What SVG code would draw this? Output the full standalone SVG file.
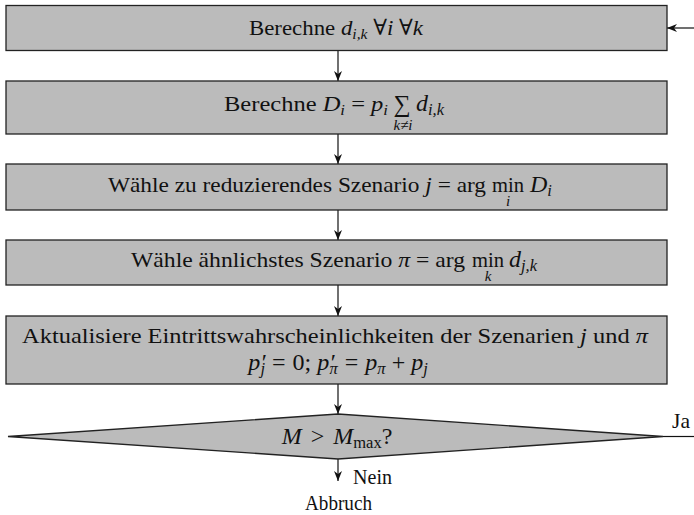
<svg xmlns="http://www.w3.org/2000/svg" width="694" height="515" viewBox="0 0 694 515">
<style>
text{font-family:"Liberation Serif","DejaVu Serif","Noto Serif",serif;font-size:22px;fill:#111}
.i{font-style:italic}
.s{font-size:15px}
.mx{font-size:24px}
.mx .s{font-size:16.5px}
.m{text-anchor:middle}
.box{fill:#bbbbbb;stroke:#222;stroke-width:1.3}
.con{stroke:#111;stroke-width:1.2;fill:none}
</style>
<defs>
<marker id="ah" viewBox="0 0 10 8" refX="10" refY="4" markerWidth="10" markerHeight="8" markerUnits="userSpaceOnUse" orient="auto">
<path d="M0,0 L10,4 L0,8 L3,4 Z" fill="#111"/>
</marker>
</defs>
<g id="connectors">
<line class="con" x1="338" y1="51" x2="338" y2="81" marker-end="url(#ah)"/>
<line class="con" x1="338" y1="134" x2="338" y2="164" marker-end="url(#ah)"/>
<line class="con" x1="338" y1="210" x2="338" y2="240" marker-end="url(#ah)"/>
<line class="con" x1="338" y1="285" x2="338" y2="316" marker-end="url(#ah)"/>
<line class="con" x1="338" y1="384" x2="338" y2="414" marker-end="url(#ah)"/>
<line class="con" x1="338" y1="459" x2="338" y2="481" marker-end="url(#ah)"/>
<line class="con" x1="694" y1="28" x2="667" y2="28" marker-end="url(#ah)"/>
<line class="con" x1="663" y1="436.5" x2="694" y2="436.5"/>
<text x="672" y="428" textLength="18" lengthAdjust="spacingAndGlyphs">Ja</text>
<text x="353" y="484" textLength="39" lengthAdjust="spacingAndGlyphs">Nein</text>
</g>
<g id="n1">
<rect class="box" x="6" y="5.5" width="661" height="45"/>
<text x="249" y="35" textLength="174" lengthAdjust="spacingAndGlyphs">Berechne <tspan class="i">d</tspan><tspan class="s i" dy="4">i,k</tspan><tspan dy="-4"> ∀</tspan><tspan class="i">i</tspan> ∀<tspan class="i">k</tspan></text>
</g>
<g id="n2">
<rect class="box" x="6" y="81" width="661" height="53"/>
<text x="224" y="111" textLength="164" lengthAdjust="spacingAndGlyphs">Berechne <tspan class="i">D</tspan><tspan class="s i" dy="4">i</tspan><tspan dy="-4"> = </tspan><tspan class="i">p</tspan><tspan class="s i" dy="4">i</tspan></text>
<text class="m" x="402" y="112" style="font-size:24px">∑</text>
<text class="s i m" x="403" y="130">k≠i</text>
<text class="mx" x="416" y="111"><tspan class="i">d</tspan><tspan class="s i" dy="4">i,k</tspan></text>
</g>
<g id="n3">
<rect class="box" x="6" y="164" width="661" height="46"/>
<text x="108" y="192" textLength="378" lengthAdjust="spacingAndGlyphs">Wähle zu reduzierendes Szenario <tspan class="i">j</tspan> = arg</text>
<text class="m" x="508" y="192" textLength="32" lengthAdjust="spacingAndGlyphs">min</text>
<text class="s i m" x="508" y="206">i</text>
<text class="mx" x="530" y="192"><tspan class="i">D</tspan><tspan class="s i" dy="4">i</tspan></text>
</g>
<g id="n4">
<rect class="box" x="6" y="240" width="661" height="45"/>
<text x="131" y="267" textLength="334" lengthAdjust="spacingAndGlyphs">Wähle ähnlichstes Szenario <tspan class="i">π</tspan> = arg</text>
<text class="m" x="488" y="267" textLength="32" lengthAdjust="spacingAndGlyphs">min</text>
<text class="s i m" x="488" y="281">k</text>
<text class="mx" x="509" y="267"><tspan class="i">d</tspan><tspan class="s i" dy="4">j,k</tspan></text>
</g>
<g id="n5">
<rect class="box" x="6" y="316" width="661" height="68"/>
<text x="22" y="343" textLength="626" lengthAdjust="spacingAndGlyphs">Aktualisiere Eintrittswahrscheinlichkeiten der Szenarien <tspan class="i">j</tspan> und <tspan class="i">π</tspan></text>
<text class="mx m" x="338" y="370"><tspan class="i">p</tspan><tspan class="i">′</tspan><tspan class="s i" dx="-5" dy="4">j</tspan><tspan dy="-4" dx="7">=</tspan><tspan dx="7">0;</tspan><tspan class="i" dx="6">p</tspan><tspan class="i">′</tspan><tspan class="s i" dx="-5" dy="4">π</tspan><tspan dy="-4" dx="7">=</tspan><tspan class="i" dx="7">p</tspan><tspan class="s i" dy="4">π</tspan><tspan dy="-4" dx="6">+</tspan><tspan class="i" dx="6">p</tspan><tspan class="s i" dy="4">j</tspan></text>
</g>
<g id="n6">
<polygon class="box" points="8,436.5 338,414 663,436.5 338,459"/>
<text class="mx m" x="337" y="444"><tspan class="i">M</tspan><tspan dx="9">&gt;</tspan><tspan class="i" dx="9">M</tspan><tspan class="s" dy="4">max</tspan><tspan dy="-4">?</tspan></text>
</g>
<g id="n7">
<text x="305" y="510" textLength="67" lengthAdjust="spacingAndGlyphs">Abbruch</text>
</g>
</svg>
